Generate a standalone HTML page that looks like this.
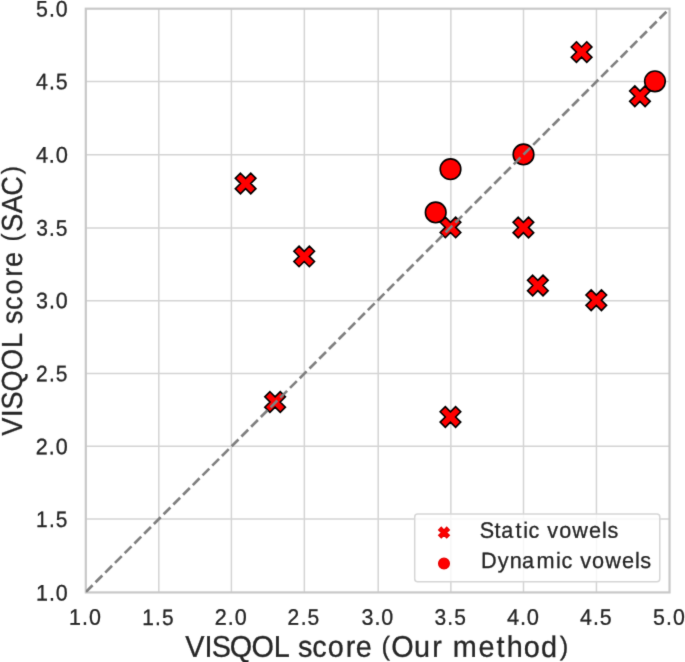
<!DOCTYPE html>
<html><head><meta charset="utf-8"><style>
html,body{margin:0;padding:0;background:#fff;width:685px;height:662px;overflow:hidden}
svg{display:block;font-family:"Liberation Sans",sans-serif}
</style></head><body>
<svg width="685" height="662" viewBox="0 0 685 662"><filter id="bl" x="0" y="0" width="685" height="662" filterUnits="userSpaceOnUse" color-interpolation-filters="sRGB"><feConvolveMatrix order="3" kernelMatrix="0.01134 0.08382 0.01134 0.08382 0.61935 0.08382 0.01134 0.08382 0.01134" divisor="1" edgeMode="duplicate" preserveAlpha="true"/></filter><g filter="url(#bl)"><rect x="0" y="0" width="685" height="662" fill="#ffffff"/><g stroke="#d4d4d4" stroke-width="1.5"><line x1="158.80" y1="8.70" x2="158.80" y2="592.43"/><line x1="85.80" y1="519.10" x2="669.54" y2="519.10"/><line x1="231.40" y1="8.70" x2="231.40" y2="592.43"/><line x1="85.80" y1="446.35" x2="669.54" y2="446.35"/><line x1="304.35" y1="8.70" x2="304.35" y2="592.43"/><line x1="85.80" y1="373.60" x2="669.54" y2="373.60"/><line x1="378.20" y1="8.70" x2="378.20" y2="592.43"/><line x1="85.80" y1="300.75" x2="669.54" y2="300.75"/><line x1="450.85" y1="8.70" x2="450.85" y2="592.43"/><line x1="85.80" y1="228.00" x2="669.54" y2="228.00"/><line x1="523.50" y1="8.70" x2="523.50" y2="592.43"/><line x1="85.80" y1="154.65" x2="669.54" y2="154.65"/><line x1="596.45" y1="8.70" x2="596.45" y2="592.43"/><line x1="85.80" y1="81.55" x2="669.54" y2="81.55"/></g>
<rect x="85.80" y="8.70" width="583.74" height="583.73" fill="none" stroke="#c8c8c8" stroke-width="2.2"/>
<g fill="#ff0000" stroke="#000" stroke-width="1.6" stroke-linejoin="miter"><path d="M240.45,173.20 L245.60,178.35 L250.75,173.20 L255.90,178.35 L250.75,183.50 L255.90,188.65 L250.75,193.80 L245.60,188.65 L240.45,193.80 L235.30,188.65 L240.45,183.50 L235.30,178.35 Z"/><path d="M299.05,246.10 L304.20,251.25 L309.35,246.10 L314.50,251.25 L309.35,256.40 L314.50,261.55 L309.35,266.70 L304.20,261.55 L299.05,266.70 L293.90,261.55 L299.05,256.40 L293.90,251.25 Z"/><path d="M269.95,391.70 L275.10,396.85 L280.25,391.70 L285.40,396.85 L280.25,402.00 L285.40,407.15 L280.25,412.30 L275.10,407.15 L269.95,412.30 L264.80,407.15 L269.95,402.00 L264.80,396.85 Z"/><path d="M445.35,217.10 L450.50,222.25 L455.65,217.10 L460.80,222.25 L455.65,227.40 L460.80,232.55 L455.65,237.70 L450.50,232.55 L445.35,237.70 L440.20,232.55 L445.35,227.40 L440.20,222.25 Z"/><path d="M445.30,406.65 L450.45,411.80 L455.60,406.65 L460.75,411.80 L455.60,416.95 L460.75,422.10 L455.60,427.25 L450.45,422.10 L445.30,427.25 L440.15,422.10 L445.30,416.95 L440.15,411.80 Z"/><path d="M518.25,217.20 L523.40,222.35 L528.55,217.20 L533.70,222.35 L528.55,227.50 L533.70,232.65 L528.55,237.80 L523.40,232.65 L518.25,237.80 L513.10,232.65 L518.25,227.50 L513.10,222.35 Z"/><path d="M532.70,275.20 L537.85,280.35 L543.00,275.20 L548.15,280.35 L543.00,285.50 L548.15,290.65 L543.00,295.80 L537.85,290.65 L532.70,295.80 L527.55,290.65 L532.70,285.50 L527.55,280.35 Z"/><path d="M591.15,289.90 L596.30,295.05 L601.45,289.90 L606.60,295.05 L601.45,300.20 L606.60,305.35 L601.45,310.50 L596.30,305.35 L591.15,310.50 L586.00,305.35 L591.15,300.20 L586.00,295.05 Z"/><path d="M576.45,41.80 L581.60,46.95 L586.75,41.80 L591.90,46.95 L586.75,52.10 L591.90,57.25 L586.75,62.40 L581.60,57.25 L576.45,62.40 L571.30,57.25 L576.45,52.10 L571.30,46.95 Z"/><path d="M634.80,85.90 L639.95,91.05 L645.10,85.90 L650.25,91.05 L645.10,96.20 L650.25,101.35 L645.10,106.50 L639.95,101.35 L634.80,106.50 L629.65,101.35 L634.80,96.20 L629.65,91.05 Z"/></g>
<g fill="#ff0000" stroke="#000" stroke-width="1.6"><circle cx="450.50" cy="169.20" r="10.30"/><circle cx="435.70" cy="212.40" r="10.30"/><circle cx="523.50" cy="154.40" r="10.30"/><circle cx="654.95" cy="81.30" r="10.30"/></g>
<clipPath id="ax"><rect x="85.80" y="8.70" width="583.74" height="583.73"/></clipPath>
<line clip-path="url(#ax)" x1="85.80" y1="592.03" x2="669.54" y2="8.60" stroke="#808080" stroke-width="2.7" stroke-dasharray="9.6 4.15" stroke-dashoffset="0"/>
<rect x="414.7" y="513.9" width="245.10" height="67.90" rx="3" fill="#ffffff" fill-opacity="0.8" stroke="#d6d6d6" stroke-width="1.5"/>
<path d="M441.27,527.15 L444.00,529.88 L446.73,527.15 L449.45,529.88 L446.73,532.60 L449.45,535.33 L446.73,538.05 L444.00,535.33 L441.27,538.05 L438.55,535.33 L441.27,532.60 L438.55,529.88 Z" fill="#ff0000" stroke="#e40000" stroke-width="1.1"/>
<circle cx="444.0" cy="563.6" r="5.45" fill="#ff0000" stroke="#e40000" stroke-width="1.1"/>
<g fill="#262626" stroke="#262626" stroke-width="0.3" opacity="0.999" text-rendering="geometricPrecision" font-family="Liberation Sans, sans-serif"><text transform="translate(85.52 624.65) rotate(0.03) translate(-85.52 0) scale(0.9578 1)" x="72.16 85.70 92.89" y="0 0 0" font-size="22.4">1.0</text><text transform="translate(52.33 600.46) rotate(0.03) translate(-52.33 0) scale(0.9578 1)" x="37.51 51.04 58.24" y="0 0 0" font-size="22.4">1.0</text><text transform="translate(158.15 624.65) rotate(0.03) translate(-158.15 0) scale(0.9318 1)" x="152.55 166.36 173.76" y="0 0 0" font-size="22.4">1.5</text><text transform="translate(52.11 526.61) rotate(0.03) translate(-52.11 0) scale(0.9318 1)" x="38.74 52.56 59.96" y="0 0 0" font-size="22.4">1.5</text><text transform="translate(230.91 624.65) rotate(0.03) translate(-230.91 0) scale(0.9609 1)" x="223.43 237.10 244.26" y="0 0 0" font-size="22.4">2.0</text><text transform="translate(51.95 454.18) rotate(0.03) translate(-51.95 0) scale(0.9609 1)" x="37.19 50.87 58.03" y="0 0 0" font-size="22.4">2.0</text><text transform="translate(303.39 624.65) rotate(0.03) translate(-303.39 0) scale(0.9356 1)" x="307.37 321.33 328.68" y="0 0 0" font-size="22.4">2.5</text><text transform="translate(51.73 381.25) rotate(0.03) translate(-51.73 0) scale(0.9356 1)" x="38.37 52.33 59.69" y="0 0 0" font-size="22.4">2.5</text><text transform="translate(377.55 624.65) rotate(0.03) translate(-377.55 0) scale(0.9590 1)" x="377.08 390.46 397.65" y="0 0 0" font-size="22.4">3.0</text><text transform="translate(51.98 308.33) rotate(0.03) translate(-51.98 0) scale(0.9590 1)" x="37.60 50.98 58.16" y="0 0 0" font-size="22.4">3.0</text><text transform="translate(450.10 624.65) rotate(0.03) translate(-450.10 0) scale(0.9341 1)" x="465.23 478.88 486.26" y="0 0 0" font-size="22.4">3.5</text><text transform="translate(51.76 235.63) rotate(0.03) translate(-51.76 0) scale(0.9341 1)" x="38.76 52.42 59.79" y="0 0 0" font-size="22.4">3.5</text><text transform="translate(522.81 624.65) rotate(0.03) translate(-522.81 0) scale(0.9765 1)" x="519.24 532.47 539.47" y="0 0 0" font-size="22.4">4.0</text><text transform="translate(51.70 162.48) rotate(0.03) translate(-51.70 0) scale(0.9765 1)" x="36.78 50.01 57.01" y="0 0 0" font-size="22.4">4.0</text><text transform="translate(595.52 624.65) rotate(0.03) translate(-595.52 0) scale(0.9523 1)" x="609.18 622.66 629.84" y="0 0 0" font-size="22.4">4.5</text><text transform="translate(51.48 89.33) rotate(0.03) translate(-51.48 0) scale(0.9523 1)" x="37.87 51.36 58.53" y="0 0 0" font-size="22.4">4.5</text><text transform="translate(669.10 624.65) rotate(0.03) translate(-669.10 0) scale(0.9517 1)" x="686.26 699.83 707.10" y="0 0 0" font-size="22.4">5.0</text><text transform="translate(51.99 16.61) rotate(0.03) translate(-51.99 0) scale(0.9517 1)" x="37.82 51.39 58.66" y="0 0 0" font-size="22.4">5.0</text><text transform="translate(376.00 656.80) rotate(0.03) translate(-376.00 0) scale(0.9665 1)" x="191.73 211.54 219.19 237.73 260.25 283.37 299.03 308.32 323.10 339.22 357.73 367.96 384.99 394.60 404.92 428.47 447.36 457.65 468.34 495.18 513.60 524.22 542.03 559.68 579.06" y="0 0 0 0 0 0 0 0 0 0 0 0 0 -1.83 0 0 0 0 0 0 0 0 0 0 -1.83" font-size="29.8">VISQOL score <tspan font-size="26.43">(</tspan>Our method<tspan font-size="26.43">)</tspan></text><text transform="translate(21.90 301.90) rotate(-89.97) scale(0.9320 1)" x="-143.70 -123.64 -115.44 -96.27 -73.09 -49.44 -33.83 -23.85 -8.62 8.01 26.91 37.58 54.64 64.73 75.32 95.12 114.00 136.93" y="0 0 0 0 0 0 0 0 0 0 0 0 0 -1.81 0 0 0 -1.81" font-size="29.0">VISQOL score <tspan font-size="26.23">(</tspan>SAC<tspan font-size="26.23">)</tspan></text><text transform="translate(549.40 537.76) rotate(0.03) translate(-549.40 0) scale(0.9703 1)" x="494.51 509.69 516.65 531.29 539.17 544.71 556.42 564.06 576.37 589.87 607.17 620.43 626.08" y="0 0 0 0 0 0 0 0 0 0 0 0 0" font-size="22.2">Static vowels</text><text transform="translate(566.50 567.94) rotate(0.03) translate(-566.50 0) scale(0.9768 1)" x="492.52 509.47 521.98 534.44 549.16 569.25 574.74 586.41 593.96 606.19 619.59 636.78 649.97 655.56" y="0 0 0 0 0 0 0 0 0 0 0 0 0 0" font-size="22.2">Dynamic vowels</text></g></g></svg>
</body></html>
